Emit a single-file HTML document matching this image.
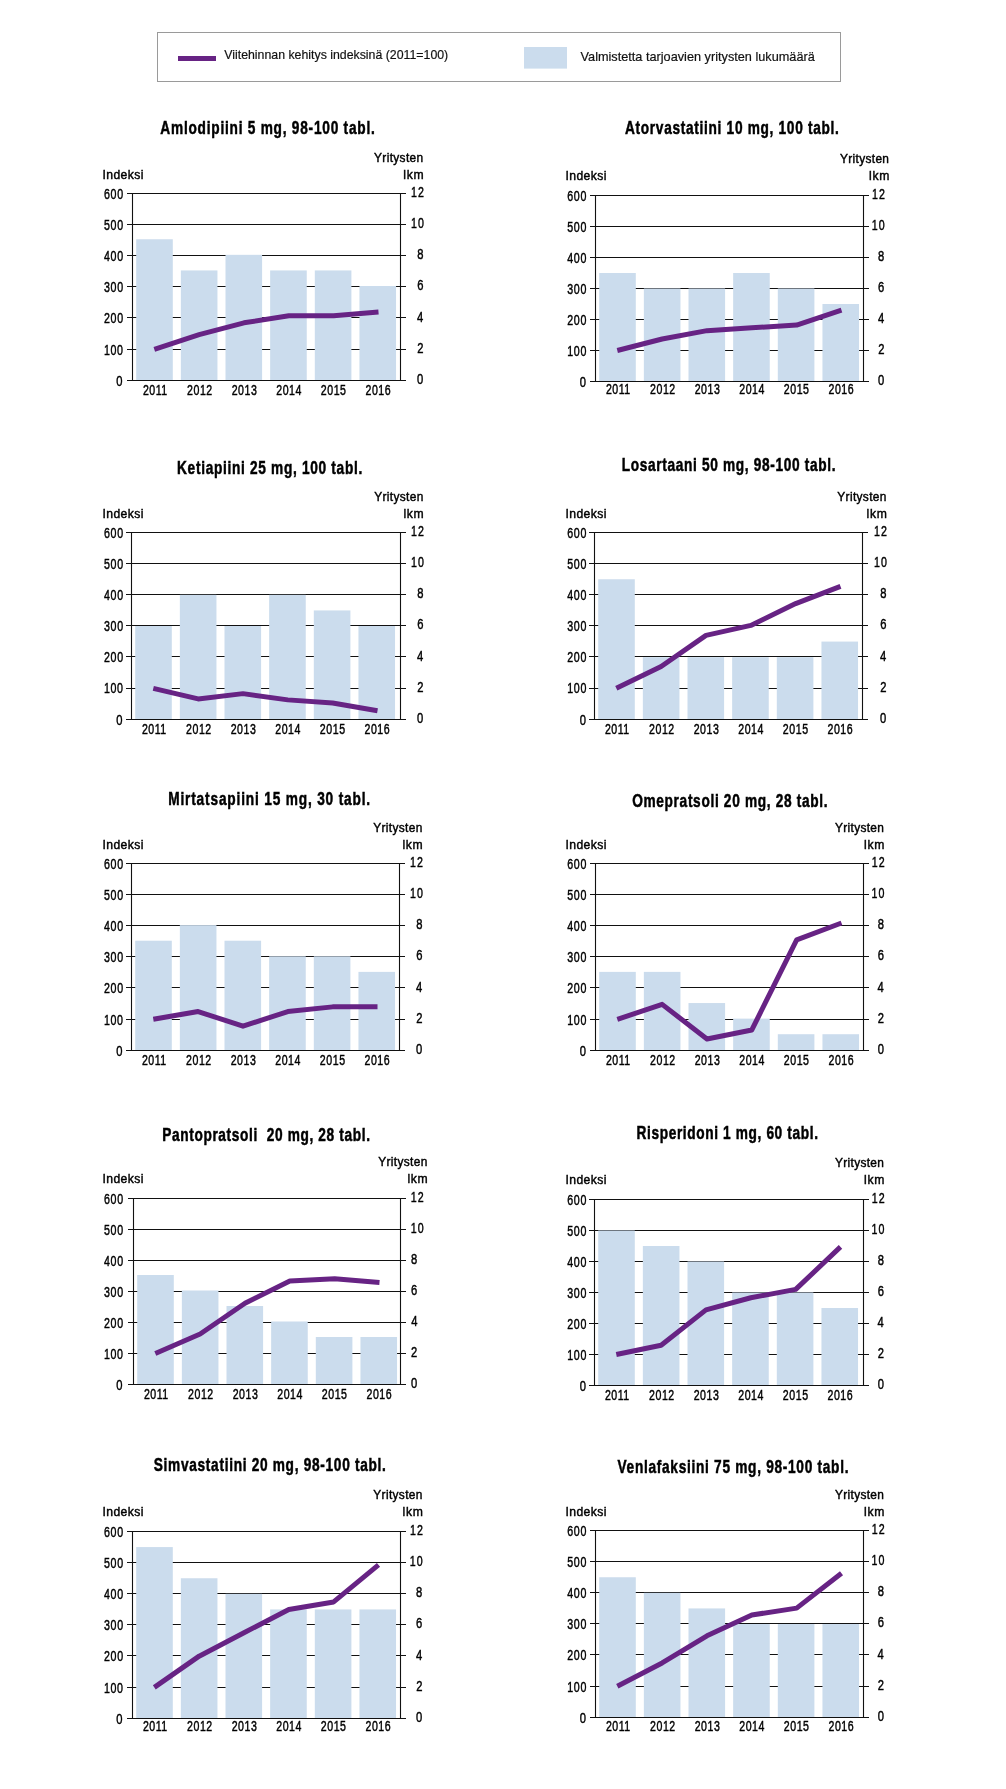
<!DOCTYPE html>
<html><head><meta charset="utf-8"><style>
html,body{margin:0;padding:0;background:#fff;}
svg{display:block;will-change:transform;}
text{font-family:"Liberation Sans",sans-serif;white-space:pre;stroke:#000;stroke-width:0.45px;}
.ttl{stroke:#000;stroke-width:0.5px;}
.lg{stroke-width:0.2px;fill:#111;stroke:#111;}
</style></head><body>
<svg width="1006" height="1789" viewBox="0 0 1006 1789">
<rect width="1006" height="1789" fill="#fff"/>
<rect x="157.5" y="32.5" width="683" height="49" fill="none" stroke="#9a9a9a" stroke-width="1"/>
<rect x="178" y="56" width="38" height="5" fill="#672384"/>
<text class="lg" x="224.24" y="59.30" font-size="13.6" font-weight="normal" textLength="223.97" lengthAdjust="spacingAndGlyphs" fill="#000">Viitehinnan kehitys indeksinä (2011=100)</text>
<rect x="524" y="47" width="43" height="21.6" fill="#cbdced"/>
<text class="lg" x="580.54" y="60.90" font-size="13.6" font-weight="normal" textLength="234.25" lengthAdjust="spacingAndGlyphs" fill="#000">Valmistetta tarjoavien yritysten lukumäärä</text>
<line x1="127.00" y1="193.50" x2="406.00" y2="193.50" stroke="#111" stroke-width="1.1"/>
<line x1="127.00" y1="224.50" x2="406.00" y2="224.50" stroke="#111" stroke-width="1.1"/>
<line x1="127.00" y1="255.50" x2="406.00" y2="255.50" stroke="#111" stroke-width="1.1"/>
<line x1="127.00" y1="286.50" x2="406.00" y2="286.50" stroke="#111" stroke-width="1.1"/>
<line x1="127.00" y1="317.50" x2="406.00" y2="317.50" stroke="#111" stroke-width="1.1"/>
<line x1="127.00" y1="349.50" x2="406.00" y2="349.50" stroke="#111" stroke-width="1.1"/>
<line x1="127.00" y1="380.50" x2="406.00" y2="380.50" stroke="#111" stroke-width="1.1"/>
<rect x="136.20" y="239.25" width="36.6" height="141.25" fill="#cbdced"/>
<rect x="180.85" y="270.42" width="36.6" height="110.08" fill="#cbdced"/>
<rect x="225.50" y="254.83" width="36.6" height="125.67" fill="#cbdced"/>
<rect x="270.15" y="270.42" width="36.6" height="110.08" fill="#cbdced"/>
<rect x="314.80" y="270.42" width="36.6" height="110.08" fill="#cbdced"/>
<rect x="359.45" y="286.00" width="36.6" height="94.50" fill="#cbdced"/>
<line x1="127.00" y1="380.50" x2="406.00" y2="380.50" stroke="#111" stroke-width="1.1"/>
<line x1="132.50" y1="193.00" x2="132.50" y2="381.00" stroke="#111" stroke-width="1.1"/>
<line x1="400.50" y1="193.00" x2="400.50" y2="381.00" stroke="#111" stroke-width="1.1"/>
<polyline points="154.30,349.33 199.14,334.69 243.98,322.84 288.82,315.67 333.66,315.67 378.50,311.93" fill="none" stroke="#672384" stroke-width="5" stroke-linejoin="round"/>
<g transform="scale(0.71915,1)"><text class="lb" x="144.57" y="198.68" font-size="14.8" font-weight="normal" textLength="26.54" lengthAdjust="spacing" fill="#000">600</text></g>
<g transform="scale(0.71915,1)"><text class="lb" x="144.56" y="229.85" font-size="14.8" font-weight="normal" textLength="26.55" lengthAdjust="spacing" fill="#000">500</text></g>
<g transform="scale(0.71915,1)"><text class="lb" x="144.54" y="261.01" font-size="14.8" font-weight="normal" textLength="26.58" lengthAdjust="spacing" fill="#000">400</text></g>
<g transform="scale(0.71915,1)"><text class="lb" x="144.56" y="292.18" font-size="14.8" font-weight="normal" textLength="26.55" lengthAdjust="spacing" fill="#000">300</text></g>
<g transform="scale(0.71915,1)"><text class="lb" x="144.57" y="323.35" font-size="14.8" font-weight="normal" textLength="26.54" lengthAdjust="spacing" fill="#000">200</text></g>
<g transform="scale(0.71915,1)"><text class="lb" x="144.59" y="354.51" font-size="14.8" font-weight="normal" textLength="26.51" lengthAdjust="spacing" fill="#000">100</text></g>
<text x="116.37" y="385.68" font-size="14.8" font-weight="normal" textLength="6.23" lengthAdjust="spacingAndGlyphs" fill="#000">0</text>
<g transform="scale(0.71915,1)"><text class="lb" x="571.60" y="196.98" font-size="14.8" font-weight="normal" textLength="18.00" lengthAdjust="spacing" fill="#000">12</text></g>
<g transform="scale(0.71915,1)"><text class="lb" x="571.37" y="228.15" font-size="14.8" font-weight="normal" textLength="18.02" lengthAdjust="spacing" fill="#000">10</text></g>
<text x="417.13" y="259.31" font-size="14.8" font-weight="normal" textLength="6.23" lengthAdjust="spacingAndGlyphs" fill="#000">8</text>
<text x="417.13" y="290.48" font-size="14.8" font-weight="normal" textLength="6.23" lengthAdjust="spacingAndGlyphs" fill="#000">6</text>
<text x="417.02" y="321.65" font-size="14.8" font-weight="normal" textLength="6.23" lengthAdjust="spacingAndGlyphs" fill="#000">4</text>
<text x="417.24" y="352.81" font-size="14.8" font-weight="normal" textLength="6.23" lengthAdjust="spacingAndGlyphs" fill="#000">2</text>
<text x="417.07" y="383.98" font-size="14.8" font-weight="normal" textLength="6.23" lengthAdjust="spacingAndGlyphs" fill="#000">0</text>
<g transform="scale(0.74575,1)"><text class="lb" x="191.64" y="394.70" font-size="14.2" font-weight="normal" textLength="32.58" lengthAdjust="spacing" fill="#000">2011</text></g>
<g transform="scale(0.74575,1)"><text class="lb" x="250.92" y="394.70" font-size="14.2" font-weight="normal" textLength="33.71" lengthAdjust="spacing" fill="#000">2012</text></g>
<g transform="scale(0.74575,1)"><text class="lb" x="310.66" y="394.70" font-size="14.2" font-weight="normal" textLength="33.72" lengthAdjust="spacing" fill="#000">2013</text></g>
<g transform="scale(0.74575,1)"><text class="lb" x="370.39" y="394.70" font-size="14.2" font-weight="normal" textLength="33.73" lengthAdjust="spacing" fill="#000">2014</text></g>
<g transform="scale(0.74575,1)"><text class="lb" x="430.27" y="394.70" font-size="14.2" font-weight="normal" textLength="33.72" lengthAdjust="spacing" fill="#000">2015</text></g>
<g transform="scale(0.74575,1)"><text class="lb" x="490.07" y="394.70" font-size="14.2" font-weight="normal" textLength="33.72" lengthAdjust="spacing" fill="#000">2016</text></g>
<g transform="scale(0.8957885479773307,1)"><text class="lb" x="114.43" y="178.70" font-size="13.6" font-weight="normal" textLength="45.61" lengthAdjust="spacing" fill="#000">Indeksi</text></g>
<g transform="scale(0.8970588235294118,1)"><text class="lb" x="449.59" y="178.60" font-size="13.6" font-weight="normal" textLength="22.68" lengthAdjust="spacing" fill="#000">lkm</text></g>
<g transform="scale(0.8768382352941178,1)"><text class="lb" x="426.65" y="161.60" font-size="13.6" font-weight="normal" textLength="55.97" lengthAdjust="spacing" fill="#000">Yritysten</text></g>
<g transform="scale(0.76,1)"><text class="ttl" x="211.00" y="133.80" font-size="18" font-weight="bold" textLength="282.13" lengthAdjust="spacing" fill="#000">Amlodipiini 5 mg, 98-100 tabl.</text></g>
<line x1="590.00" y1="195.50" x2="869.00" y2="195.50" stroke="#111" stroke-width="1.1"/>
<line x1="590.00" y1="226.50" x2="869.00" y2="226.50" stroke="#111" stroke-width="1.1"/>
<line x1="590.00" y1="257.50" x2="869.00" y2="257.50" stroke="#111" stroke-width="1.1"/>
<line x1="590.00" y1="288.50" x2="869.00" y2="288.50" stroke="#111" stroke-width="1.1"/>
<line x1="590.00" y1="319.50" x2="869.00" y2="319.50" stroke="#111" stroke-width="1.1"/>
<line x1="590.00" y1="350.50" x2="869.00" y2="350.50" stroke="#111" stroke-width="1.1"/>
<line x1="590.00" y1="381.50" x2="869.00" y2="381.50" stroke="#111" stroke-width="1.1"/>
<rect x="599.20" y="273.00" width="36.6" height="108.50" fill="#cbdced"/>
<rect x="643.85" y="288.50" width="36.6" height="93.00" fill="#cbdced"/>
<rect x="688.50" y="288.50" width="36.6" height="93.00" fill="#cbdced"/>
<rect x="733.15" y="273.00" width="36.6" height="108.50" fill="#cbdced"/>
<rect x="777.80" y="288.50" width="36.6" height="93.00" fill="#cbdced"/>
<rect x="822.45" y="304.00" width="36.6" height="77.50" fill="#cbdced"/>
<line x1="590.00" y1="381.50" x2="869.00" y2="381.50" stroke="#111" stroke-width="1.1"/>
<line x1="595.50" y1="195.00" x2="595.50" y2="382.00" stroke="#111" stroke-width="1.1"/>
<line x1="863.50" y1="195.00" x2="863.50" y2="382.00" stroke="#111" stroke-width="1.1"/>
<polyline points="617.30,350.50 662.14,339.03 706.98,330.66 751.82,327.87 796.66,325.08 841.50,310.20" fill="none" stroke="#672384" stroke-width="5" stroke-linejoin="round"/>
<g transform="scale(0.71915,1)"><text class="lb" x="788.80" y="200.68" font-size="14.8" font-weight="normal" textLength="26.54" lengthAdjust="spacing" fill="#000">600</text></g>
<g transform="scale(0.71915,1)"><text class="lb" x="788.79" y="231.68" font-size="14.8" font-weight="normal" textLength="26.55" lengthAdjust="spacing" fill="#000">500</text></g>
<g transform="scale(0.71915,1)"><text class="lb" x="788.78" y="262.68" font-size="14.8" font-weight="normal" textLength="26.58" lengthAdjust="spacing" fill="#000">400</text></g>
<g transform="scale(0.71915,1)"><text class="lb" x="788.79" y="293.68" font-size="14.8" font-weight="normal" textLength="26.55" lengthAdjust="spacing" fill="#000">300</text></g>
<g transform="scale(0.71915,1)"><text class="lb" x="788.80" y="324.68" font-size="14.8" font-weight="normal" textLength="26.54" lengthAdjust="spacing" fill="#000">200</text></g>
<g transform="scale(0.71915,1)"><text class="lb" x="788.82" y="355.68" font-size="14.8" font-weight="normal" textLength="26.51" lengthAdjust="spacing" fill="#000">100</text></g>
<text x="579.67" y="386.68" font-size="14.8" font-weight="normal" textLength="6.23" lengthAdjust="spacingAndGlyphs" fill="#000">0</text>
<g transform="scale(0.71915,1)"><text class="lb" x="1212.50" y="198.98" font-size="14.8" font-weight="normal" textLength="18.00" lengthAdjust="spacing" fill="#000">12</text></g>
<g transform="scale(0.71915,1)"><text class="lb" x="1212.26" y="229.98" font-size="14.8" font-weight="normal" textLength="18.02" lengthAdjust="spacing" fill="#000">10</text></g>
<text x="878.03" y="260.98" font-size="14.8" font-weight="normal" textLength="6.23" lengthAdjust="spacingAndGlyphs" fill="#000">8</text>
<text x="878.03" y="291.98" font-size="14.8" font-weight="normal" textLength="6.23" lengthAdjust="spacingAndGlyphs" fill="#000">6</text>
<text x="877.92" y="322.98" font-size="14.8" font-weight="normal" textLength="6.23" lengthAdjust="spacingAndGlyphs" fill="#000">4</text>
<text x="878.14" y="353.98" font-size="14.8" font-weight="normal" textLength="6.23" lengthAdjust="spacingAndGlyphs" fill="#000">2</text>
<text x="877.97" y="384.98" font-size="14.8" font-weight="normal" textLength="6.23" lengthAdjust="spacingAndGlyphs" fill="#000">0</text>
<g transform="scale(0.74575,1)"><text class="lb" x="812.49" y="394.50" font-size="14.2" font-weight="normal" textLength="32.58" lengthAdjust="spacing" fill="#000">2011</text></g>
<g transform="scale(0.74575,1)"><text class="lb" x="871.78" y="394.50" font-size="14.2" font-weight="normal" textLength="33.71" lengthAdjust="spacing" fill="#000">2012</text></g>
<g transform="scale(0.74575,1)"><text class="lb" x="931.51" y="394.50" font-size="14.2" font-weight="normal" textLength="33.72" lengthAdjust="spacing" fill="#000">2013</text></g>
<g transform="scale(0.74575,1)"><text class="lb" x="991.24" y="394.50" font-size="14.2" font-weight="normal" textLength="33.73" lengthAdjust="spacing" fill="#000">2014</text></g>
<g transform="scale(0.74575,1)"><text class="lb" x="1051.12" y="394.50" font-size="14.2" font-weight="normal" textLength="33.72" lengthAdjust="spacing" fill="#000">2015</text></g>
<g transform="scale(0.74575,1)"><text class="lb" x="1110.92" y="394.50" font-size="14.2" font-weight="normal" textLength="33.72" lengthAdjust="spacing" fill="#000">2016</text></g>
<g transform="scale(0.8957885479773307,1)"><text class="lb" x="631.29" y="180.00" font-size="13.6" font-weight="normal" textLength="45.61" lengthAdjust="spacing" fill="#000">Indeksi</text></g>
<g transform="scale(0.8970588235294118,1)"><text class="lb" x="968.84" y="179.90" font-size="13.6" font-weight="normal" textLength="22.68" lengthAdjust="spacing" fill="#000">lkm</text></g>
<g transform="scale(0.8768382352941178,1)"><text class="lb" x="957.88" y="162.90" font-size="13.6" font-weight="normal" textLength="55.97" lengthAdjust="spacing" fill="#000">Yritysten</text></g>
<g transform="scale(0.76,1)"><text class="ttl" x="822.31" y="134.00" font-size="18" font-weight="bold" textLength="281.47" lengthAdjust="spacing" fill="#000">Atorvastatiini 10 mg, 100 tabl.</text></g>
<line x1="126.00" y1="532.50" x2="406.00" y2="532.50" stroke="#111" stroke-width="1.1"/>
<line x1="126.00" y1="563.50" x2="406.00" y2="563.50" stroke="#111" stroke-width="1.1"/>
<line x1="126.00" y1="594.50" x2="406.00" y2="594.50" stroke="#111" stroke-width="1.1"/>
<line x1="126.00" y1="625.50" x2="406.00" y2="625.50" stroke="#111" stroke-width="1.1"/>
<line x1="126.00" y1="656.50" x2="406.00" y2="656.50" stroke="#111" stroke-width="1.1"/>
<line x1="126.00" y1="688.50" x2="406.00" y2="688.50" stroke="#111" stroke-width="1.1"/>
<line x1="126.00" y1="719.50" x2="406.00" y2="719.50" stroke="#111" stroke-width="1.1"/>
<rect x="135.20" y="626.00" width="36.6" height="93.50" fill="#cbdced"/>
<rect x="179.85" y="594.83" width="36.6" height="124.67" fill="#cbdced"/>
<rect x="224.50" y="626.00" width="36.6" height="93.50" fill="#cbdced"/>
<rect x="269.15" y="594.83" width="36.6" height="124.67" fill="#cbdced"/>
<rect x="313.80" y="610.42" width="36.6" height="109.08" fill="#cbdced"/>
<rect x="358.45" y="626.00" width="36.6" height="93.50" fill="#cbdced"/>
<line x1="126.00" y1="719.50" x2="406.00" y2="719.50" stroke="#111" stroke-width="1.1"/>
<line x1="131.50" y1="532.00" x2="131.50" y2="720.00" stroke="#111" stroke-width="1.1"/>
<line x1="400.50" y1="532.00" x2="400.50" y2="720.00" stroke="#111" stroke-width="1.1"/>
<polyline points="153.30,688.33 198.14,698.93 242.98,693.63 287.82,699.87 332.66,702.98 377.50,710.77" fill="none" stroke="#672384" stroke-width="5" stroke-linejoin="round"/>
<g transform="scale(0.71915,1)"><text class="lb" x="144.57" y="537.68" font-size="14.8" font-weight="normal" textLength="26.54" lengthAdjust="spacing" fill="#000">600</text></g>
<g transform="scale(0.71915,1)"><text class="lb" x="144.56" y="568.85" font-size="14.8" font-weight="normal" textLength="26.55" lengthAdjust="spacing" fill="#000">500</text></g>
<g transform="scale(0.71915,1)"><text class="lb" x="144.54" y="600.01" font-size="14.8" font-weight="normal" textLength="26.58" lengthAdjust="spacing" fill="#000">400</text></g>
<g transform="scale(0.71915,1)"><text class="lb" x="144.56" y="631.18" font-size="14.8" font-weight="normal" textLength="26.55" lengthAdjust="spacing" fill="#000">300</text></g>
<g transform="scale(0.71915,1)"><text class="lb" x="144.57" y="662.35" font-size="14.8" font-weight="normal" textLength="26.54" lengthAdjust="spacing" fill="#000">200</text></g>
<g transform="scale(0.71915,1)"><text class="lb" x="144.59" y="693.51" font-size="14.8" font-weight="normal" textLength="26.51" lengthAdjust="spacing" fill="#000">100</text></g>
<text x="116.37" y="724.68" font-size="14.8" font-weight="normal" textLength="6.23" lengthAdjust="spacingAndGlyphs" fill="#000">0</text>
<g transform="scale(0.71915,1)"><text class="lb" x="571.60" y="535.98" font-size="14.8" font-weight="normal" textLength="18.00" lengthAdjust="spacing" fill="#000">12</text></g>
<g transform="scale(0.71915,1)"><text class="lb" x="571.37" y="567.15" font-size="14.8" font-weight="normal" textLength="18.02" lengthAdjust="spacing" fill="#000">10</text></g>
<text x="417.13" y="598.31" font-size="14.8" font-weight="normal" textLength="6.23" lengthAdjust="spacingAndGlyphs" fill="#000">8</text>
<text x="417.13" y="629.48" font-size="14.8" font-weight="normal" textLength="6.23" lengthAdjust="spacingAndGlyphs" fill="#000">6</text>
<text x="417.02" y="660.65" font-size="14.8" font-weight="normal" textLength="6.23" lengthAdjust="spacingAndGlyphs" fill="#000">4</text>
<text x="417.24" y="691.81" font-size="14.8" font-weight="normal" textLength="6.23" lengthAdjust="spacingAndGlyphs" fill="#000">2</text>
<text x="417.07" y="722.98" font-size="14.8" font-weight="normal" textLength="6.23" lengthAdjust="spacingAndGlyphs" fill="#000">0</text>
<g transform="scale(0.74575,1)"><text class="lb" x="190.30" y="733.70" font-size="14.2" font-weight="normal" textLength="32.58" lengthAdjust="spacing" fill="#000">2011</text></g>
<g transform="scale(0.74575,1)"><text class="lb" x="249.58" y="733.70" font-size="14.2" font-weight="normal" textLength="33.71" lengthAdjust="spacing" fill="#000">2012</text></g>
<g transform="scale(0.74575,1)"><text class="lb" x="309.31" y="733.70" font-size="14.2" font-weight="normal" textLength="33.72" lengthAdjust="spacing" fill="#000">2013</text></g>
<g transform="scale(0.74575,1)"><text class="lb" x="369.05" y="733.70" font-size="14.2" font-weight="normal" textLength="33.73" lengthAdjust="spacing" fill="#000">2014</text></g>
<g transform="scale(0.74575,1)"><text class="lb" x="428.93" y="733.70" font-size="14.2" font-weight="normal" textLength="33.72" lengthAdjust="spacing" fill="#000">2015</text></g>
<g transform="scale(0.74575,1)"><text class="lb" x="488.73" y="733.70" font-size="14.2" font-weight="normal" textLength="33.72" lengthAdjust="spacing" fill="#000">2016</text></g>
<g transform="scale(0.8957885479773307,1)"><text class="lb" x="114.43" y="517.70" font-size="13.6" font-weight="normal" textLength="45.61" lengthAdjust="spacing" fill="#000">Indeksi</text></g>
<g transform="scale(0.8970588235294118,1)"><text class="lb" x="449.70" y="517.60" font-size="13.6" font-weight="normal" textLength="22.68" lengthAdjust="spacing" fill="#000">lkm</text></g>
<g transform="scale(0.8768382352941178,1)"><text class="lb" x="426.76" y="500.60" font-size="13.6" font-weight="normal" textLength="55.97" lengthAdjust="spacing" fill="#000">Yritysten</text></g>
<g transform="scale(0.76,1)"><text class="ttl" x="232.91" y="473.60" font-size="18" font-weight="bold" textLength="243.76" lengthAdjust="spacing" fill="#000">Ketiapiini 25 mg, 100 tabl.</text></g>
<line x1="589.00" y1="532.50" x2="868.00" y2="532.50" stroke="#111" stroke-width="1.1"/>
<line x1="589.00" y1="563.50" x2="868.00" y2="563.50" stroke="#111" stroke-width="1.1"/>
<line x1="589.00" y1="594.50" x2="868.00" y2="594.50" stroke="#111" stroke-width="1.1"/>
<line x1="589.00" y1="625.50" x2="868.00" y2="625.50" stroke="#111" stroke-width="1.1"/>
<line x1="589.00" y1="656.50" x2="868.00" y2="656.50" stroke="#111" stroke-width="1.1"/>
<line x1="589.00" y1="688.50" x2="868.00" y2="688.50" stroke="#111" stroke-width="1.1"/>
<line x1="589.00" y1="719.50" x2="868.00" y2="719.50" stroke="#111" stroke-width="1.1"/>
<rect x="598.20" y="579.25" width="36.6" height="140.25" fill="#cbdced"/>
<rect x="642.85" y="657.17" width="36.6" height="62.33" fill="#cbdced"/>
<rect x="687.50" y="657.17" width="36.6" height="62.33" fill="#cbdced"/>
<rect x="732.15" y="657.17" width="36.6" height="62.33" fill="#cbdced"/>
<rect x="776.80" y="657.17" width="36.6" height="62.33" fill="#cbdced"/>
<rect x="821.45" y="641.58" width="36.6" height="77.92" fill="#cbdced"/>
<line x1="589.00" y1="719.50" x2="868.00" y2="719.50" stroke="#111" stroke-width="1.1"/>
<line x1="594.50" y1="532.00" x2="594.50" y2="720.00" stroke="#111" stroke-width="1.1"/>
<line x1="862.50" y1="532.00" x2="862.50" y2="720.00" stroke="#111" stroke-width="1.1"/>
<polyline points="616.30,688.33 661.14,666.52 705.98,635.35 750.82,625.38 795.66,603.56 840.50,586.42" fill="none" stroke="#672384" stroke-width="5" stroke-linejoin="round"/>
<g transform="scale(0.71915,1)"><text class="lb" x="788.80" y="537.68" font-size="14.8" font-weight="normal" textLength="26.54" lengthAdjust="spacing" fill="#000">600</text></g>
<g transform="scale(0.71915,1)"><text class="lb" x="788.79" y="568.85" font-size="14.8" font-weight="normal" textLength="26.55" lengthAdjust="spacing" fill="#000">500</text></g>
<g transform="scale(0.71915,1)"><text class="lb" x="788.78" y="600.01" font-size="14.8" font-weight="normal" textLength="26.58" lengthAdjust="spacing" fill="#000">400</text></g>
<g transform="scale(0.71915,1)"><text class="lb" x="788.79" y="631.18" font-size="14.8" font-weight="normal" textLength="26.55" lengthAdjust="spacing" fill="#000">300</text></g>
<g transform="scale(0.71915,1)"><text class="lb" x="788.80" y="662.35" font-size="14.8" font-weight="normal" textLength="26.54" lengthAdjust="spacing" fill="#000">200</text></g>
<g transform="scale(0.71915,1)"><text class="lb" x="788.82" y="693.51" font-size="14.8" font-weight="normal" textLength="26.51" lengthAdjust="spacing" fill="#000">100</text></g>
<text x="579.67" y="724.68" font-size="14.8" font-weight="normal" textLength="6.23" lengthAdjust="spacingAndGlyphs" fill="#000">0</text>
<g transform="scale(0.71915,1)"><text class="lb" x="1215.42" y="535.98" font-size="14.8" font-weight="normal" textLength="18.00" lengthAdjust="spacing" fill="#000">12</text></g>
<g transform="scale(0.71915,1)"><text class="lb" x="1215.18" y="567.15" font-size="14.8" font-weight="normal" textLength="18.02" lengthAdjust="spacing" fill="#000">10</text></g>
<text x="880.13" y="598.31" font-size="14.8" font-weight="normal" textLength="6.23" lengthAdjust="spacingAndGlyphs" fill="#000">8</text>
<text x="880.13" y="629.48" font-size="14.8" font-weight="normal" textLength="6.23" lengthAdjust="spacingAndGlyphs" fill="#000">6</text>
<text x="880.02" y="660.65" font-size="14.8" font-weight="normal" textLength="6.23" lengthAdjust="spacingAndGlyphs" fill="#000">4</text>
<text x="880.24" y="691.81" font-size="14.8" font-weight="normal" textLength="6.23" lengthAdjust="spacingAndGlyphs" fill="#000">2</text>
<text x="880.07" y="722.98" font-size="14.8" font-weight="normal" textLength="6.23" lengthAdjust="spacingAndGlyphs" fill="#000">0</text>
<g transform="scale(0.74575,1)"><text class="lb" x="811.15" y="733.70" font-size="14.2" font-weight="normal" textLength="32.58" lengthAdjust="spacing" fill="#000">2011</text></g>
<g transform="scale(0.74575,1)"><text class="lb" x="870.43" y="733.70" font-size="14.2" font-weight="normal" textLength="33.71" lengthAdjust="spacing" fill="#000">2012</text></g>
<g transform="scale(0.74575,1)"><text class="lb" x="930.17" y="733.70" font-size="14.2" font-weight="normal" textLength="33.72" lengthAdjust="spacing" fill="#000">2013</text></g>
<g transform="scale(0.74575,1)"><text class="lb" x="989.90" y="733.70" font-size="14.2" font-weight="normal" textLength="33.73" lengthAdjust="spacing" fill="#000">2014</text></g>
<g transform="scale(0.74575,1)"><text class="lb" x="1049.78" y="733.70" font-size="14.2" font-weight="normal" textLength="33.72" lengthAdjust="spacing" fill="#000">2015</text></g>
<g transform="scale(0.74575,1)"><text class="lb" x="1109.58" y="733.70" font-size="14.2" font-weight="normal" textLength="33.72" lengthAdjust="spacing" fill="#000">2016</text></g>
<g transform="scale(0.8957885479773307,1)"><text class="lb" x="631.29" y="517.70" font-size="13.6" font-weight="normal" textLength="45.61" lengthAdjust="spacing" fill="#000">Indeksi</text></g>
<g transform="scale(0.8970588235294118,1)"><text class="lb" x="965.94" y="517.60" font-size="13.6" font-weight="normal" textLength="22.68" lengthAdjust="spacing" fill="#000">lkm</text></g>
<g transform="scale(0.8768382352941178,1)"><text class="lb" x="954.91" y="500.60" font-size="13.6" font-weight="normal" textLength="55.97" lengthAdjust="spacing" fill="#000">Yritysten</text></g>
<g transform="scale(0.76,1)"><text class="ttl" x="818.17" y="470.70" font-size="18" font-weight="bold" textLength="281.13" lengthAdjust="spacing" fill="#000">Losartaani 50 mg, 98-100 tabl.</text></g>
<line x1="126.00" y1="863.50" x2="405.00" y2="863.50" stroke="#111" stroke-width="1.1"/>
<line x1="126.00" y1="894.50" x2="405.00" y2="894.50" stroke="#111" stroke-width="1.1"/>
<line x1="126.00" y1="925.50" x2="405.00" y2="925.50" stroke="#111" stroke-width="1.1"/>
<line x1="126.00" y1="956.50" x2="405.00" y2="956.50" stroke="#111" stroke-width="1.1"/>
<line x1="126.00" y1="987.50" x2="405.00" y2="987.50" stroke="#111" stroke-width="1.1"/>
<line x1="126.00" y1="1019.50" x2="405.00" y2="1019.50" stroke="#111" stroke-width="1.1"/>
<line x1="126.00" y1="1050.50" x2="405.00" y2="1050.50" stroke="#111" stroke-width="1.1"/>
<rect x="135.20" y="940.72" width="36.6" height="109.78" fill="#cbdced"/>
<rect x="179.85" y="925.13" width="36.6" height="125.37" fill="#cbdced"/>
<rect x="224.50" y="940.72" width="36.6" height="109.78" fill="#cbdced"/>
<rect x="269.15" y="956.30" width="36.6" height="94.20" fill="#cbdced"/>
<rect x="313.80" y="956.30" width="36.6" height="94.20" fill="#cbdced"/>
<rect x="358.45" y="971.88" width="36.6" height="78.62" fill="#cbdced"/>
<line x1="126.00" y1="1050.50" x2="405.00" y2="1050.50" stroke="#111" stroke-width="1.1"/>
<line x1="131.50" y1="863.00" x2="131.50" y2="1051.00" stroke="#111" stroke-width="1.1"/>
<line x1="399.50" y1="863.00" x2="399.50" y2="1051.00" stroke="#111" stroke-width="1.1"/>
<polyline points="153.30,1019.33 198.14,1011.54 242.98,1026.19 287.82,1011.54 332.66,1006.87 377.50,1006.87" fill="none" stroke="#672384" stroke-width="5" stroke-linejoin="round"/>
<g transform="scale(0.71915,1)"><text class="lb" x="144.57" y="868.68" font-size="14.8" font-weight="normal" textLength="26.54" lengthAdjust="spacing" fill="#000">600</text></g>
<g transform="scale(0.71915,1)"><text class="lb" x="144.56" y="899.85" font-size="14.8" font-weight="normal" textLength="26.55" lengthAdjust="spacing" fill="#000">500</text></g>
<g transform="scale(0.71915,1)"><text class="lb" x="144.54" y="931.01" font-size="14.8" font-weight="normal" textLength="26.58" lengthAdjust="spacing" fill="#000">400</text></g>
<g transform="scale(0.71915,1)"><text class="lb" x="144.56" y="962.18" font-size="14.8" font-weight="normal" textLength="26.55" lengthAdjust="spacing" fill="#000">300</text></g>
<g transform="scale(0.71915,1)"><text class="lb" x="144.57" y="993.35" font-size="14.8" font-weight="normal" textLength="26.54" lengthAdjust="spacing" fill="#000">200</text></g>
<g transform="scale(0.71915,1)"><text class="lb" x="144.59" y="1024.51" font-size="14.8" font-weight="normal" textLength="26.51" lengthAdjust="spacing" fill="#000">100</text></g>
<text x="116.37" y="1055.68" font-size="14.8" font-weight="normal" textLength="6.23" lengthAdjust="spacingAndGlyphs" fill="#000">0</text>
<g transform="scale(0.71915,1)"><text class="lb" x="570.21" y="866.98" font-size="14.8" font-weight="normal" textLength="18.00" lengthAdjust="spacing" fill="#000">12</text></g>
<g transform="scale(0.71915,1)"><text class="lb" x="569.98" y="898.15" font-size="14.8" font-weight="normal" textLength="18.02" lengthAdjust="spacing" fill="#000">10</text></g>
<text x="416.13" y="929.31" font-size="14.8" font-weight="normal" textLength="6.23" lengthAdjust="spacingAndGlyphs" fill="#000">8</text>
<text x="416.13" y="960.48" font-size="14.8" font-weight="normal" textLength="6.23" lengthAdjust="spacingAndGlyphs" fill="#000">6</text>
<text x="416.02" y="991.65" font-size="14.8" font-weight="normal" textLength="6.23" lengthAdjust="spacingAndGlyphs" fill="#000">4</text>
<text x="416.24" y="1022.81" font-size="14.8" font-weight="normal" textLength="6.23" lengthAdjust="spacingAndGlyphs" fill="#000">2</text>
<text x="416.07" y="1053.98" font-size="14.8" font-weight="normal" textLength="6.23" lengthAdjust="spacingAndGlyphs" fill="#000">0</text>
<g transform="scale(0.74575,1)"><text class="lb" x="190.30" y="1065.20" font-size="14.2" font-weight="normal" textLength="32.58" lengthAdjust="spacing" fill="#000">2011</text></g>
<g transform="scale(0.74575,1)"><text class="lb" x="249.58" y="1065.20" font-size="14.2" font-weight="normal" textLength="33.71" lengthAdjust="spacing" fill="#000">2012</text></g>
<g transform="scale(0.74575,1)"><text class="lb" x="309.31" y="1065.20" font-size="14.2" font-weight="normal" textLength="33.72" lengthAdjust="spacing" fill="#000">2013</text></g>
<g transform="scale(0.74575,1)"><text class="lb" x="369.05" y="1065.20" font-size="14.2" font-weight="normal" textLength="33.73" lengthAdjust="spacing" fill="#000">2014</text></g>
<g transform="scale(0.74575,1)"><text class="lb" x="428.93" y="1065.20" font-size="14.2" font-weight="normal" textLength="33.72" lengthAdjust="spacing" fill="#000">2015</text></g>
<g transform="scale(0.74575,1)"><text class="lb" x="488.73" y="1065.20" font-size="14.2" font-weight="normal" textLength="33.72" lengthAdjust="spacing" fill="#000">2016</text></g>
<g transform="scale(0.8957885479773307,1)"><text class="lb" x="114.43" y="848.70" font-size="13.6" font-weight="normal" textLength="45.61" lengthAdjust="spacing" fill="#000">Indeksi</text></g>
<g transform="scale(0.8970588235294118,1)"><text class="lb" x="448.58" y="848.60" font-size="13.6" font-weight="normal" textLength="22.68" lengthAdjust="spacing" fill="#000">lkm</text></g>
<g transform="scale(0.8768382352941178,1)"><text class="lb" x="425.62" y="831.60" font-size="13.6" font-weight="normal" textLength="55.97" lengthAdjust="spacing" fill="#000">Yritysten</text></g>
<g transform="scale(0.76,1)"><text class="ttl" x="221.33" y="804.70" font-size="18" font-weight="bold" textLength="265.71" lengthAdjust="spacing" fill="#000">Mirtatsapiini 15 mg, 30 tabl.</text></g>
<line x1="590.00" y1="863.50" x2="869.00" y2="863.50" stroke="#111" stroke-width="1.1"/>
<line x1="590.00" y1="894.50" x2="869.00" y2="894.50" stroke="#111" stroke-width="1.1"/>
<line x1="590.00" y1="925.50" x2="869.00" y2="925.50" stroke="#111" stroke-width="1.1"/>
<line x1="590.00" y1="956.50" x2="869.00" y2="956.50" stroke="#111" stroke-width="1.1"/>
<line x1="590.00" y1="987.50" x2="869.00" y2="987.50" stroke="#111" stroke-width="1.1"/>
<line x1="590.00" y1="1019.50" x2="869.00" y2="1019.50" stroke="#111" stroke-width="1.1"/>
<line x1="590.00" y1="1050.50" x2="869.00" y2="1050.50" stroke="#111" stroke-width="1.1"/>
<rect x="599.20" y="971.88" width="36.6" height="78.62" fill="#cbdced"/>
<rect x="643.85" y="971.88" width="36.6" height="78.62" fill="#cbdced"/>
<rect x="688.50" y="1003.05" width="36.6" height="47.45" fill="#cbdced"/>
<rect x="733.15" y="1018.63" width="36.6" height="31.87" fill="#cbdced"/>
<rect x="777.80" y="1034.22" width="36.6" height="16.28" fill="#cbdced"/>
<rect x="822.45" y="1034.22" width="36.6" height="16.28" fill="#cbdced"/>
<line x1="590.00" y1="1050.50" x2="869.00" y2="1050.50" stroke="#111" stroke-width="1.1"/>
<line x1="595.50" y1="863.00" x2="595.50" y2="1051.00" stroke="#111" stroke-width="1.1"/>
<line x1="863.50" y1="863.00" x2="863.50" y2="1051.00" stroke="#111" stroke-width="1.1"/>
<polyline points="617.30,1019.33 662.14,1004.37 706.98,1038.97 751.82,1029.93 796.66,939.86 841.50,923.03" fill="none" stroke="#672384" stroke-width="5" stroke-linejoin="round"/>
<g transform="scale(0.71915,1)"><text class="lb" x="788.80" y="868.68" font-size="14.8" font-weight="normal" textLength="26.54" lengthAdjust="spacing" fill="#000">600</text></g>
<g transform="scale(0.71915,1)"><text class="lb" x="788.79" y="899.85" font-size="14.8" font-weight="normal" textLength="26.55" lengthAdjust="spacing" fill="#000">500</text></g>
<g transform="scale(0.71915,1)"><text class="lb" x="788.78" y="931.01" font-size="14.8" font-weight="normal" textLength="26.58" lengthAdjust="spacing" fill="#000">400</text></g>
<g transform="scale(0.71915,1)"><text class="lb" x="788.79" y="962.18" font-size="14.8" font-weight="normal" textLength="26.55" lengthAdjust="spacing" fill="#000">300</text></g>
<g transform="scale(0.71915,1)"><text class="lb" x="788.80" y="993.35" font-size="14.8" font-weight="normal" textLength="26.54" lengthAdjust="spacing" fill="#000">200</text></g>
<g transform="scale(0.71915,1)"><text class="lb" x="788.82" y="1024.51" font-size="14.8" font-weight="normal" textLength="26.51" lengthAdjust="spacing" fill="#000">100</text></g>
<text x="579.67" y="1055.68" font-size="14.8" font-weight="normal" textLength="6.23" lengthAdjust="spacingAndGlyphs" fill="#000">0</text>
<g transform="scale(0.71915,1)"><text class="lb" x="1212.08" y="866.98" font-size="14.8" font-weight="normal" textLength="18.00" lengthAdjust="spacing" fill="#000">12</text></g>
<g transform="scale(0.71915,1)"><text class="lb" x="1211.84" y="898.15" font-size="14.8" font-weight="normal" textLength="18.02" lengthAdjust="spacing" fill="#000">10</text></g>
<text x="877.73" y="929.31" font-size="14.8" font-weight="normal" textLength="6.23" lengthAdjust="spacingAndGlyphs" fill="#000">8</text>
<text x="877.73" y="960.48" font-size="14.8" font-weight="normal" textLength="6.23" lengthAdjust="spacingAndGlyphs" fill="#000">6</text>
<text x="877.62" y="991.65" font-size="14.8" font-weight="normal" textLength="6.23" lengthAdjust="spacingAndGlyphs" fill="#000">4</text>
<text x="877.84" y="1022.81" font-size="14.8" font-weight="normal" textLength="6.23" lengthAdjust="spacingAndGlyphs" fill="#000">2</text>
<text x="877.67" y="1053.98" font-size="14.8" font-weight="normal" textLength="6.23" lengthAdjust="spacingAndGlyphs" fill="#000">0</text>
<g transform="scale(0.74575,1)"><text class="lb" x="812.49" y="1065.20" font-size="14.2" font-weight="normal" textLength="32.58" lengthAdjust="spacing" fill="#000">2011</text></g>
<g transform="scale(0.74575,1)"><text class="lb" x="871.78" y="1065.20" font-size="14.2" font-weight="normal" textLength="33.71" lengthAdjust="spacing" fill="#000">2012</text></g>
<g transform="scale(0.74575,1)"><text class="lb" x="931.51" y="1065.20" font-size="14.2" font-weight="normal" textLength="33.72" lengthAdjust="spacing" fill="#000">2013</text></g>
<g transform="scale(0.74575,1)"><text class="lb" x="991.24" y="1065.20" font-size="14.2" font-weight="normal" textLength="33.73" lengthAdjust="spacing" fill="#000">2014</text></g>
<g transform="scale(0.74575,1)"><text class="lb" x="1051.12" y="1065.20" font-size="14.2" font-weight="normal" textLength="33.72" lengthAdjust="spacing" fill="#000">2015</text></g>
<g transform="scale(0.74575,1)"><text class="lb" x="1110.92" y="1065.20" font-size="14.2" font-weight="normal" textLength="33.72" lengthAdjust="spacing" fill="#000">2016</text></g>
<g transform="scale(0.8957885479773307,1)"><text class="lb" x="631.29" y="848.70" font-size="13.6" font-weight="normal" textLength="45.61" lengthAdjust="spacing" fill="#000">Indeksi</text></g>
<g transform="scale(0.8970588235294118,1)"><text class="lb" x="963.27" y="848.60" font-size="13.6" font-weight="normal" textLength="22.68" lengthAdjust="spacing" fill="#000">lkm</text></g>
<g transform="scale(0.8768382352941178,1)"><text class="lb" x="952.17" y="831.60" font-size="13.6" font-weight="normal" textLength="55.97" lengthAdjust="spacing" fill="#000">Yritysten</text></g>
<g transform="scale(0.76,1)"><text class="ttl" x="831.78" y="807.10" font-size="18" font-weight="bold" textLength="257.17" lengthAdjust="spacing" fill="#000">Omepratsoli 20 mg, 28 tabl.</text></g>
<line x1="128.00" y1="1198.50" x2="406.00" y2="1198.50" stroke="#111" stroke-width="1.1"/>
<line x1="128.00" y1="1229.50" x2="406.00" y2="1229.50" stroke="#111" stroke-width="1.1"/>
<line x1="128.00" y1="1260.50" x2="406.00" y2="1260.50" stroke="#111" stroke-width="1.1"/>
<line x1="128.00" y1="1291.50" x2="406.00" y2="1291.50" stroke="#111" stroke-width="1.1"/>
<line x1="128.00" y1="1322.50" x2="406.00" y2="1322.50" stroke="#111" stroke-width="1.1"/>
<line x1="128.00" y1="1353.50" x2="406.00" y2="1353.50" stroke="#111" stroke-width="1.1"/>
<line x1="128.00" y1="1384.50" x2="406.00" y2="1384.50" stroke="#111" stroke-width="1.1"/>
<rect x="137.20" y="1275.00" width="36.6" height="109.50" fill="#cbdced"/>
<rect x="181.85" y="1290.50" width="36.6" height="94.00" fill="#cbdced"/>
<rect x="226.50" y="1306.00" width="36.6" height="78.50" fill="#cbdced"/>
<rect x="271.15" y="1321.50" width="36.6" height="63.00" fill="#cbdced"/>
<rect x="315.80" y="1337.00" width="36.6" height="47.50" fill="#cbdced"/>
<rect x="360.45" y="1337.00" width="36.6" height="47.50" fill="#cbdced"/>
<line x1="128.00" y1="1384.50" x2="406.00" y2="1384.50" stroke="#111" stroke-width="1.1"/>
<line x1="133.50" y1="1198.00" x2="133.50" y2="1385.00" stroke="#111" stroke-width="1.1"/>
<line x1="400.50" y1="1198.00" x2="400.50" y2="1385.00" stroke="#111" stroke-width="1.1"/>
<polyline points="155.30,1353.50 200.14,1333.97 244.98,1303.28 289.82,1280.96 334.66,1278.79 379.50,1282.51" fill="none" stroke="#672384" stroke-width="5" stroke-linejoin="round"/>
<g transform="scale(0.71915,1)"><text class="lb" x="144.57" y="1203.68" font-size="14.8" font-weight="normal" textLength="26.54" lengthAdjust="spacing" fill="#000">600</text></g>
<g transform="scale(0.71915,1)"><text class="lb" x="144.56" y="1234.68" font-size="14.8" font-weight="normal" textLength="26.55" lengthAdjust="spacing" fill="#000">500</text></g>
<g transform="scale(0.71915,1)"><text class="lb" x="144.54" y="1265.68" font-size="14.8" font-weight="normal" textLength="26.58" lengthAdjust="spacing" fill="#000">400</text></g>
<g transform="scale(0.71915,1)"><text class="lb" x="144.56" y="1296.68" font-size="14.8" font-weight="normal" textLength="26.55" lengthAdjust="spacing" fill="#000">300</text></g>
<g transform="scale(0.71915,1)"><text class="lb" x="144.57" y="1327.68" font-size="14.8" font-weight="normal" textLength="26.54" lengthAdjust="spacing" fill="#000">200</text></g>
<g transform="scale(0.71915,1)"><text class="lb" x="144.59" y="1358.68" font-size="14.8" font-weight="normal" textLength="26.51" lengthAdjust="spacing" fill="#000">100</text></g>
<text x="116.37" y="1389.68" font-size="14.8" font-weight="normal" textLength="6.23" lengthAdjust="spacingAndGlyphs" fill="#000">0</text>
<g transform="scale(0.71915,1)"><text class="lb" x="571.09" y="1201.98" font-size="14.8" font-weight="normal" textLength="18.00" lengthAdjust="spacing" fill="#000">12</text></g>
<g transform="scale(0.71915,1)"><text class="lb" x="571.09" y="1232.98" font-size="14.8" font-weight="normal" textLength="18.02" lengthAdjust="spacing" fill="#000">10</text></g>
<text x="411.00" y="1263.98" font-size="14.8" font-weight="normal" textLength="6.23" lengthAdjust="spacingAndGlyphs" fill="#000">8</text>
<text x="410.94" y="1294.98" font-size="14.8" font-weight="normal" textLength="6.23" lengthAdjust="spacingAndGlyphs" fill="#000">6</text>
<text x="411.28" y="1325.98" font-size="14.8" font-weight="normal" textLength="6.23" lengthAdjust="spacingAndGlyphs" fill="#000">4</text>
<text x="410.94" y="1356.98" font-size="14.8" font-weight="normal" textLength="6.23" lengthAdjust="spacingAndGlyphs" fill="#000">2</text>
<text x="411.05" y="1387.98" font-size="14.8" font-weight="normal" textLength="6.23" lengthAdjust="spacingAndGlyphs" fill="#000">0</text>
<g transform="scale(0.74575,1)"><text class="lb" x="192.98" y="1399.20" font-size="14.2" font-weight="normal" textLength="32.58" lengthAdjust="spacing" fill="#000">2011</text></g>
<g transform="scale(0.74575,1)"><text class="lb" x="252.27" y="1399.20" font-size="14.2" font-weight="normal" textLength="33.71" lengthAdjust="spacing" fill="#000">2012</text></g>
<g transform="scale(0.74575,1)"><text class="lb" x="312.00" y="1399.20" font-size="14.2" font-weight="normal" textLength="33.72" lengthAdjust="spacing" fill="#000">2013</text></g>
<g transform="scale(0.74575,1)"><text class="lb" x="371.73" y="1399.20" font-size="14.2" font-weight="normal" textLength="33.73" lengthAdjust="spacing" fill="#000">2014</text></g>
<g transform="scale(0.74575,1)"><text class="lb" x="431.61" y="1399.20" font-size="14.2" font-weight="normal" textLength="33.72" lengthAdjust="spacing" fill="#000">2015</text></g>
<g transform="scale(0.74575,1)"><text class="lb" x="491.41" y="1399.20" font-size="14.2" font-weight="normal" textLength="33.72" lengthAdjust="spacing" fill="#000">2016</text></g>
<g transform="scale(0.8957885479773307,1)"><text class="lb" x="114.43" y="1182.70" font-size="13.6" font-weight="normal" textLength="45.61" lengthAdjust="spacing" fill="#000">Indeksi</text></g>
<g transform="scale(0.8970588235294118,1)"><text class="lb" x="454.16" y="1182.60" font-size="13.6" font-weight="normal" textLength="22.68" lengthAdjust="spacing" fill="#000">lkm</text></g>
<g transform="scale(0.8768382352941178,1)"><text class="lb" x="431.32" y="1165.60" font-size="13.6" font-weight="normal" textLength="55.97" lengthAdjust="spacing" fill="#000">Yritysten</text></g>
<g transform="scale(0.76,1)"><text class="ttl" x="213.44" y="1140.60" font-size="18" font-weight="bold" textLength="273.32" lengthAdjust="spacing" fill="#000">Pantopratsoli  20 mg, 28 tabl.</text></g>
<line x1="589.00" y1="1199.50" x2="869.00" y2="1199.50" stroke="#111" stroke-width="1.1"/>
<line x1="589.00" y1="1230.50" x2="869.00" y2="1230.50" stroke="#111" stroke-width="1.1"/>
<line x1="589.00" y1="1261.50" x2="869.00" y2="1261.50" stroke="#111" stroke-width="1.1"/>
<line x1="589.00" y1="1292.50" x2="869.00" y2="1292.50" stroke="#111" stroke-width="1.1"/>
<line x1="589.00" y1="1323.50" x2="869.00" y2="1323.50" stroke="#111" stroke-width="1.1"/>
<line x1="589.00" y1="1354.50" x2="869.00" y2="1354.50" stroke="#111" stroke-width="1.1"/>
<line x1="589.00" y1="1385.50" x2="869.00" y2="1385.50" stroke="#111" stroke-width="1.1"/>
<rect x="598.20" y="1230.50" width="36.6" height="155.00" fill="#cbdced"/>
<rect x="642.85" y="1246.00" width="36.6" height="139.50" fill="#cbdced"/>
<rect x="687.50" y="1261.50" width="36.6" height="124.00" fill="#cbdced"/>
<rect x="732.15" y="1292.50" width="36.6" height="93.00" fill="#cbdced"/>
<rect x="776.80" y="1292.50" width="36.6" height="93.00" fill="#cbdced"/>
<rect x="821.45" y="1308.00" width="36.6" height="77.50" fill="#cbdced"/>
<line x1="589.00" y1="1385.50" x2="869.00" y2="1385.50" stroke="#111" stroke-width="1.1"/>
<line x1="594.50" y1="1199.00" x2="594.50" y2="1386.00" stroke="#111" stroke-width="1.1"/>
<line x1="863.50" y1="1199.00" x2="863.50" y2="1386.00" stroke="#111" stroke-width="1.1"/>
<polyline points="616.30,1354.50 661.14,1345.20 705.98,1309.86 750.82,1297.77 795.66,1289.40 840.50,1246.93" fill="none" stroke="#672384" stroke-width="5" stroke-linejoin="round"/>
<g transform="scale(0.71915,1)"><text class="lb" x="788.80" y="1204.68" font-size="14.8" font-weight="normal" textLength="26.54" lengthAdjust="spacing" fill="#000">600</text></g>
<g transform="scale(0.71915,1)"><text class="lb" x="788.79" y="1235.68" font-size="14.8" font-weight="normal" textLength="26.55" lengthAdjust="spacing" fill="#000">500</text></g>
<g transform="scale(0.71915,1)"><text class="lb" x="788.78" y="1266.68" font-size="14.8" font-weight="normal" textLength="26.58" lengthAdjust="spacing" fill="#000">400</text></g>
<g transform="scale(0.71915,1)"><text class="lb" x="788.79" y="1297.68" font-size="14.8" font-weight="normal" textLength="26.55" lengthAdjust="spacing" fill="#000">300</text></g>
<g transform="scale(0.71915,1)"><text class="lb" x="788.80" y="1328.68" font-size="14.8" font-weight="normal" textLength="26.54" lengthAdjust="spacing" fill="#000">200</text></g>
<g transform="scale(0.71915,1)"><text class="lb" x="788.82" y="1359.68" font-size="14.8" font-weight="normal" textLength="26.51" lengthAdjust="spacing" fill="#000">100</text></g>
<text x="579.67" y="1390.68" font-size="14.8" font-weight="normal" textLength="6.23" lengthAdjust="spacingAndGlyphs" fill="#000">0</text>
<g transform="scale(0.71915,1)"><text class="lb" x="1212.08" y="1202.98" font-size="14.8" font-weight="normal" textLength="18.00" lengthAdjust="spacing" fill="#000">12</text></g>
<g transform="scale(0.71915,1)"><text class="lb" x="1211.84" y="1233.98" font-size="14.8" font-weight="normal" textLength="18.02" lengthAdjust="spacing" fill="#000">10</text></g>
<text x="877.73" y="1264.98" font-size="14.8" font-weight="normal" textLength="6.23" lengthAdjust="spacingAndGlyphs" fill="#000">8</text>
<text x="877.73" y="1295.98" font-size="14.8" font-weight="normal" textLength="6.23" lengthAdjust="spacingAndGlyphs" fill="#000">6</text>
<text x="877.62" y="1326.98" font-size="14.8" font-weight="normal" textLength="6.23" lengthAdjust="spacingAndGlyphs" fill="#000">4</text>
<text x="877.84" y="1357.98" font-size="14.8" font-weight="normal" textLength="6.23" lengthAdjust="spacingAndGlyphs" fill="#000">2</text>
<text x="877.67" y="1388.98" font-size="14.8" font-weight="normal" textLength="6.23" lengthAdjust="spacingAndGlyphs" fill="#000">0</text>
<g transform="scale(0.74575,1)"><text class="lb" x="811.15" y="1399.70" font-size="14.2" font-weight="normal" textLength="32.58" lengthAdjust="spacing" fill="#000">2011</text></g>
<g transform="scale(0.74575,1)"><text class="lb" x="870.43" y="1399.70" font-size="14.2" font-weight="normal" textLength="33.71" lengthAdjust="spacing" fill="#000">2012</text></g>
<g transform="scale(0.74575,1)"><text class="lb" x="930.17" y="1399.70" font-size="14.2" font-weight="normal" textLength="33.72" lengthAdjust="spacing" fill="#000">2013</text></g>
<g transform="scale(0.74575,1)"><text class="lb" x="989.90" y="1399.70" font-size="14.2" font-weight="normal" textLength="33.73" lengthAdjust="spacing" fill="#000">2014</text></g>
<g transform="scale(0.74575,1)"><text class="lb" x="1049.78" y="1399.70" font-size="14.2" font-weight="normal" textLength="33.72" lengthAdjust="spacing" fill="#000">2015</text></g>
<g transform="scale(0.74575,1)"><text class="lb" x="1109.58" y="1399.70" font-size="14.2" font-weight="normal" textLength="33.72" lengthAdjust="spacing" fill="#000">2016</text></g>
<g transform="scale(0.8957885479773307,1)"><text class="lb" x="631.29" y="1183.70" font-size="13.6" font-weight="normal" textLength="45.61" lengthAdjust="spacing" fill="#000">Indeksi</text></g>
<g transform="scale(0.8970588235294118,1)"><text class="lb" x="963.27" y="1183.60" font-size="13.6" font-weight="normal" textLength="22.68" lengthAdjust="spacing" fill="#000">lkm</text></g>
<g transform="scale(0.8768382352941178,1)"><text class="lb" x="952.17" y="1166.60" font-size="13.6" font-weight="normal" textLength="55.97" lengthAdjust="spacing" fill="#000">Yritysten</text></g>
<g transform="scale(0.76,1)"><text class="ttl" x="837.51" y="1138.70" font-size="18" font-weight="bold" textLength="238.73" lengthAdjust="spacing" fill="#000">Risperidoni 1 mg, 60 tabl.</text></g>
<line x1="127.00" y1="1531.50" x2="406.00" y2="1531.50" stroke="#111" stroke-width="1.1"/>
<line x1="127.00" y1="1562.50" x2="406.00" y2="1562.50" stroke="#111" stroke-width="1.1"/>
<line x1="127.00" y1="1593.50" x2="406.00" y2="1593.50" stroke="#111" stroke-width="1.1"/>
<line x1="127.00" y1="1624.50" x2="406.00" y2="1624.50" stroke="#111" stroke-width="1.1"/>
<line x1="127.00" y1="1655.50" x2="406.00" y2="1655.50" stroke="#111" stroke-width="1.1"/>
<line x1="127.00" y1="1687.50" x2="406.00" y2="1687.50" stroke="#111" stroke-width="1.1"/>
<line x1="127.00" y1="1718.50" x2="406.00" y2="1718.50" stroke="#111" stroke-width="1.1"/>
<rect x="136.20" y="1547.08" width="36.6" height="171.42" fill="#cbdced"/>
<rect x="180.85" y="1578.25" width="36.6" height="140.25" fill="#cbdced"/>
<rect x="225.50" y="1593.83" width="36.6" height="124.67" fill="#cbdced"/>
<rect x="270.15" y="1609.42" width="36.6" height="109.08" fill="#cbdced"/>
<rect x="314.80" y="1609.42" width="36.6" height="109.08" fill="#cbdced"/>
<rect x="359.45" y="1609.42" width="36.6" height="109.08" fill="#cbdced"/>
<line x1="127.00" y1="1718.50" x2="406.00" y2="1718.50" stroke="#111" stroke-width="1.1"/>
<line x1="132.50" y1="1531.00" x2="132.50" y2="1719.00" stroke="#111" stroke-width="1.1"/>
<line x1="400.50" y1="1531.00" x2="400.50" y2="1719.00" stroke="#111" stroke-width="1.1"/>
<polyline points="154.30,1687.33 199.14,1656.17 243.98,1632.79 288.82,1609.42 333.66,1601.94 378.50,1564.85" fill="none" stroke="#672384" stroke-width="5" stroke-linejoin="round"/>
<g transform="scale(0.71915,1)"><text class="lb" x="144.57" y="1536.68" font-size="14.8" font-weight="normal" textLength="26.54" lengthAdjust="spacing" fill="#000">600</text></g>
<g transform="scale(0.71915,1)"><text class="lb" x="144.56" y="1567.85" font-size="14.8" font-weight="normal" textLength="26.55" lengthAdjust="spacing" fill="#000">500</text></g>
<g transform="scale(0.71915,1)"><text class="lb" x="144.54" y="1599.01" font-size="14.8" font-weight="normal" textLength="26.58" lengthAdjust="spacing" fill="#000">400</text></g>
<g transform="scale(0.71915,1)"><text class="lb" x="144.56" y="1630.18" font-size="14.8" font-weight="normal" textLength="26.55" lengthAdjust="spacing" fill="#000">300</text></g>
<g transform="scale(0.71915,1)"><text class="lb" x="144.57" y="1661.35" font-size="14.8" font-weight="normal" textLength="26.54" lengthAdjust="spacing" fill="#000">200</text></g>
<g transform="scale(0.71915,1)"><text class="lb" x="144.59" y="1692.51" font-size="14.8" font-weight="normal" textLength="26.51" lengthAdjust="spacing" fill="#000">100</text></g>
<text x="116.37" y="1723.68" font-size="14.8" font-weight="normal" textLength="6.23" lengthAdjust="spacingAndGlyphs" fill="#000">0</text>
<g transform="scale(0.71915,1)"><text class="lb" x="570.07" y="1534.98" font-size="14.8" font-weight="normal" textLength="18.00" lengthAdjust="spacing" fill="#000">12</text></g>
<g transform="scale(0.71915,1)"><text class="lb" x="569.84" y="1566.15" font-size="14.8" font-weight="normal" textLength="18.02" lengthAdjust="spacing" fill="#000">10</text></g>
<text x="416.03" y="1597.31" font-size="14.8" font-weight="normal" textLength="6.23" lengthAdjust="spacingAndGlyphs" fill="#000">8</text>
<text x="416.03" y="1628.48" font-size="14.8" font-weight="normal" textLength="6.23" lengthAdjust="spacingAndGlyphs" fill="#000">6</text>
<text x="415.92" y="1659.65" font-size="14.8" font-weight="normal" textLength="6.23" lengthAdjust="spacingAndGlyphs" fill="#000">4</text>
<text x="416.14" y="1690.81" font-size="14.8" font-weight="normal" textLength="6.23" lengthAdjust="spacingAndGlyphs" fill="#000">2</text>
<text x="415.97" y="1721.98" font-size="14.8" font-weight="normal" textLength="6.23" lengthAdjust="spacingAndGlyphs" fill="#000">0</text>
<g transform="scale(0.74575,1)"><text class="lb" x="191.64" y="1731.50" font-size="14.2" font-weight="normal" textLength="32.58" lengthAdjust="spacing" fill="#000">2011</text></g>
<g transform="scale(0.74575,1)"><text class="lb" x="250.92" y="1731.50" font-size="14.2" font-weight="normal" textLength="33.71" lengthAdjust="spacing" fill="#000">2012</text></g>
<g transform="scale(0.74575,1)"><text class="lb" x="310.66" y="1731.50" font-size="14.2" font-weight="normal" textLength="33.72" lengthAdjust="spacing" fill="#000">2013</text></g>
<g transform="scale(0.74575,1)"><text class="lb" x="370.39" y="1731.50" font-size="14.2" font-weight="normal" textLength="33.73" lengthAdjust="spacing" fill="#000">2014</text></g>
<g transform="scale(0.74575,1)"><text class="lb" x="430.27" y="1731.50" font-size="14.2" font-weight="normal" textLength="33.72" lengthAdjust="spacing" fill="#000">2015</text></g>
<g transform="scale(0.74575,1)"><text class="lb" x="490.07" y="1731.50" font-size="14.2" font-weight="normal" textLength="33.72" lengthAdjust="spacing" fill="#000">2016</text></g>
<g transform="scale(0.8957885479773307,1)"><text class="lb" x="114.43" y="1516.40" font-size="13.6" font-weight="normal" textLength="45.61" lengthAdjust="spacing" fill="#000">Indeksi</text></g>
<g transform="scale(0.8970588235294118,1)"><text class="lb" x="448.70" y="1516.30" font-size="13.6" font-weight="normal" textLength="22.68" lengthAdjust="spacing" fill="#000">lkm</text></g>
<g transform="scale(0.8768382352941178,1)"><text class="lb" x="425.74" y="1499.30" font-size="13.6" font-weight="normal" textLength="55.97" lengthAdjust="spacing" fill="#000">Yritysten</text></g>
<g transform="scale(0.76,1)"><text class="ttl" x="202.35" y="1471.00" font-size="18" font-weight="bold" textLength="305.32" lengthAdjust="spacing" fill="#000">Simvastatiini 20 mg, 98-100 tabl.</text></g>
<line x1="590.00" y1="1530.50" x2="869.00" y2="1530.50" stroke="#111" stroke-width="1.1"/>
<line x1="590.00" y1="1561.50" x2="869.00" y2="1561.50" stroke="#111" stroke-width="1.1"/>
<line x1="590.00" y1="1592.50" x2="869.00" y2="1592.50" stroke="#111" stroke-width="1.1"/>
<line x1="590.00" y1="1623.50" x2="869.00" y2="1623.50" stroke="#111" stroke-width="1.1"/>
<line x1="590.00" y1="1654.50" x2="869.00" y2="1654.50" stroke="#111" stroke-width="1.1"/>
<line x1="590.00" y1="1686.50" x2="869.00" y2="1686.50" stroke="#111" stroke-width="1.1"/>
<line x1="590.00" y1="1717.50" x2="869.00" y2="1717.50" stroke="#111" stroke-width="1.1"/>
<rect x="599.20" y="1577.25" width="36.6" height="140.25" fill="#cbdced"/>
<rect x="643.85" y="1592.83" width="36.6" height="124.67" fill="#cbdced"/>
<rect x="688.50" y="1608.42" width="36.6" height="109.08" fill="#cbdced"/>
<rect x="733.15" y="1624.00" width="36.6" height="93.50" fill="#cbdced"/>
<rect x="777.80" y="1624.00" width="36.6" height="93.50" fill="#cbdced"/>
<rect x="822.45" y="1624.00" width="36.6" height="93.50" fill="#cbdced"/>
<line x1="590.00" y1="1717.50" x2="869.00" y2="1717.50" stroke="#111" stroke-width="1.1"/>
<line x1="595.50" y1="1530.00" x2="595.50" y2="1718.00" stroke="#111" stroke-width="1.1"/>
<line x1="863.50" y1="1530.00" x2="863.50" y2="1718.00" stroke="#111" stroke-width="1.1"/>
<polyline points="617.30,1686.33 662.14,1662.96 706.98,1635.84 751.82,1614.96 796.66,1608.11 841.50,1573.20" fill="none" stroke="#672384" stroke-width="5" stroke-linejoin="round"/>
<g transform="scale(0.71915,1)"><text class="lb" x="788.80" y="1535.68" font-size="14.8" font-weight="normal" textLength="26.54" lengthAdjust="spacing" fill="#000">600</text></g>
<g transform="scale(0.71915,1)"><text class="lb" x="788.79" y="1566.85" font-size="14.8" font-weight="normal" textLength="26.55" lengthAdjust="spacing" fill="#000">500</text></g>
<g transform="scale(0.71915,1)"><text class="lb" x="788.78" y="1598.01" font-size="14.8" font-weight="normal" textLength="26.58" lengthAdjust="spacing" fill="#000">400</text></g>
<g transform="scale(0.71915,1)"><text class="lb" x="788.79" y="1629.18" font-size="14.8" font-weight="normal" textLength="26.55" lengthAdjust="spacing" fill="#000">300</text></g>
<g transform="scale(0.71915,1)"><text class="lb" x="788.80" y="1660.35" font-size="14.8" font-weight="normal" textLength="26.54" lengthAdjust="spacing" fill="#000">200</text></g>
<g transform="scale(0.71915,1)"><text class="lb" x="788.82" y="1691.51" font-size="14.8" font-weight="normal" textLength="26.51" lengthAdjust="spacing" fill="#000">100</text></g>
<text x="579.67" y="1722.68" font-size="14.8" font-weight="normal" textLength="6.23" lengthAdjust="spacingAndGlyphs" fill="#000">0</text>
<g transform="scale(0.71915,1)"><text class="lb" x="1212.08" y="1533.98" font-size="14.8" font-weight="normal" textLength="18.00" lengthAdjust="spacing" fill="#000">12</text></g>
<g transform="scale(0.71915,1)"><text class="lb" x="1211.84" y="1565.15" font-size="14.8" font-weight="normal" textLength="18.02" lengthAdjust="spacing" fill="#000">10</text></g>
<text x="877.73" y="1596.31" font-size="14.8" font-weight="normal" textLength="6.23" lengthAdjust="spacingAndGlyphs" fill="#000">8</text>
<text x="877.73" y="1627.48" font-size="14.8" font-weight="normal" textLength="6.23" lengthAdjust="spacingAndGlyphs" fill="#000">6</text>
<text x="877.62" y="1658.65" font-size="14.8" font-weight="normal" textLength="6.23" lengthAdjust="spacingAndGlyphs" fill="#000">4</text>
<text x="877.84" y="1689.81" font-size="14.8" font-weight="normal" textLength="6.23" lengthAdjust="spacingAndGlyphs" fill="#000">2</text>
<text x="877.67" y="1720.98" font-size="14.8" font-weight="normal" textLength="6.23" lengthAdjust="spacingAndGlyphs" fill="#000">0</text>
<g transform="scale(0.74575,1)"><text class="lb" x="812.49" y="1731.20" font-size="14.2" font-weight="normal" textLength="32.58" lengthAdjust="spacing" fill="#000">2011</text></g>
<g transform="scale(0.74575,1)"><text class="lb" x="871.78" y="1731.20" font-size="14.2" font-weight="normal" textLength="33.71" lengthAdjust="spacing" fill="#000">2012</text></g>
<g transform="scale(0.74575,1)"><text class="lb" x="931.51" y="1731.20" font-size="14.2" font-weight="normal" textLength="33.72" lengthAdjust="spacing" fill="#000">2013</text></g>
<g transform="scale(0.74575,1)"><text class="lb" x="991.24" y="1731.20" font-size="14.2" font-weight="normal" textLength="33.73" lengthAdjust="spacing" fill="#000">2014</text></g>
<g transform="scale(0.74575,1)"><text class="lb" x="1051.12" y="1731.20" font-size="14.2" font-weight="normal" textLength="33.72" lengthAdjust="spacing" fill="#000">2015</text></g>
<g transform="scale(0.74575,1)"><text class="lb" x="1110.92" y="1731.20" font-size="14.2" font-weight="normal" textLength="33.72" lengthAdjust="spacing" fill="#000">2016</text></g>
<g transform="scale(0.8957885479773307,1)"><text class="lb" x="631.29" y="1515.70" font-size="13.6" font-weight="normal" textLength="45.61" lengthAdjust="spacing" fill="#000">Indeksi</text></g>
<g transform="scale(0.8970588235294118,1)"><text class="lb" x="963.27" y="1515.60" font-size="13.6" font-weight="normal" textLength="22.68" lengthAdjust="spacing" fill="#000">lkm</text></g>
<g transform="scale(0.8768382352941178,1)"><text class="lb" x="952.17" y="1498.60" font-size="13.6" font-weight="normal" textLength="55.97" lengthAdjust="spacing" fill="#000">Yritysten</text></g>
<g transform="scale(0.76,1)"><text class="ttl" x="812.54" y="1472.70" font-size="18" font-weight="bold" textLength="303.82" lengthAdjust="spacing" fill="#000">Venlafaksiini 75 mg, 98-100 tabl.</text></g>
</svg>
</body></html>
